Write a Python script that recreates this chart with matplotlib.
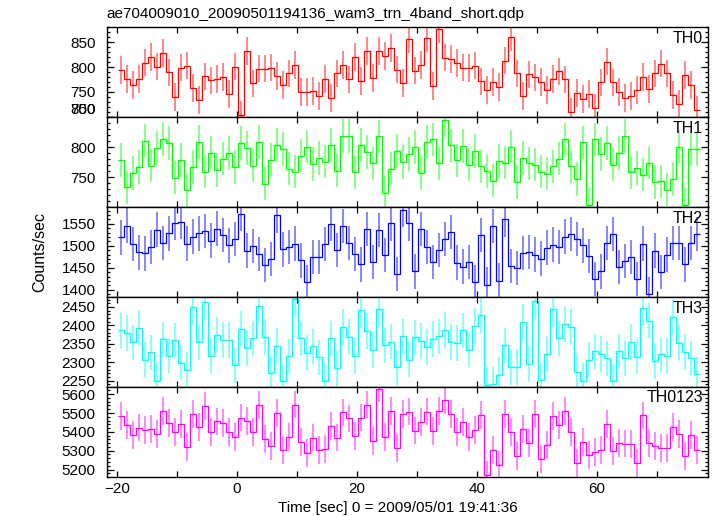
import numpy as np
import matplotlib
matplotlib.use('Agg')
import matplotlib.pyplot as plt
from matplotlib.ticker import MultipleLocator, FixedLocator

plt.rcParams['font.family'] = ['Liberation Sans', 'DejaVu Sans']

# ── data (counts/sec, 1 s bins) ───────────────────────────────────────────────

TITLE = 'ae704009010_20090501194136_wam3_trn_4band_short.qdp'
XLABEL = 'Time [sec] 0 = 2009/05/01 19:41:36'
YLABEL = 'Counts/sec'

BIN_START = -19.75   # sec, left edge of first bin
BIN_WIDTH = 1.0      # sec

th0 = [794, 776, 764, 776, 809, 820, 801, 828, 789, 739,
       799, 803, 757, 733, 781, 773, 776, 780, 745, 801,
       703, 832, 767, 797, 797, 799, 782, 763, 787, 804,
       749, 749, 752, 741, 776, 737, 787, 804, 775,
       821, 772, 832, 778, 832, 822, 839, 795, 768, 857,
       793, 804, 859, 762, 876, 819, 816, 808, 799, 798,
       803, 771, 753, 770, 759, 813, 861, 787, 741, 785,
       779, 770, 753, 776, 791, 775, 710, 748, 735, 745,
       718, 769, 811, 769, 750, 737, 741, 753, 780, 756,
       787, 807, 787, 744, 725, 784, 763, 713]

th1 = [779, 733, 757, 767, 811, 769, 799, 814, 807, 749,
       779, 728, 767, 809, 759, 791, 762, 781, 790, 767,
       807, 799, 769, 809, 739, 779, 804, 797, 764, 759,
       786, 801, 772, 782, 776, 804, 761, 819, 819,
       758, 804, 792, 773, 818, 724, 764, 794, 775, 789,
       800, 757, 809, 813, 773, 846, 803, 778, 802, 771,
       794, 768, 760, 744, 777, 774, 801, 742, 782, 773,
       771, 759, 756, 768, 781, 813, 768, 747, 808, 704,
       813, 789, 807, 771, 790, 819, 758, 765, 754, 774,
       742, 743, 729, 747, 801, 704, 797, 797]

th2 = [1519, 1546, 1504, 1485, 1483, 1497, 1537, 1507, 1528, 1552,
       1554, 1505, 1521, 1528, 1534, 1512, 1539, 1524, 1501, 1515,
       1572, 1489, 1499, 1481, 1456, 1470, 1569, 1492, 1498, 1505,
       1467, 1418, 1474, 1474, 1504, 1549, 1490, 1545, 1507,
       1481, 1458, 1538, 1463, 1536, 1479, 1551, 1436, 1582, 1551,
       1442, 1538, 1498, 1464, 1491, 1516, 1531, 1462, 1453, 1463,
       1417, 1524, 1412, 1545, 1421, 1560, 1454, 1449, 1484, 1486,
       1480, 1471, 1496, 1503, 1498, 1521, 1527, 1515, 1501, 1477,
       1424, 1442, 1507, 1527, 1452, 1466, 1474, 1424, 1505, 1390,
       1489, 1441, 1480, 1507, 1507, 1458, 1507, 1527]

th3 = [2387, 2379, 2354, 2393, 2307, 2327, 2248, 2362, 2318, 2359,
       2299, 2280, 2450, 2354, 2463, 2318, 2375, 2360, 2360, 2291,
       2391, 2338, 2365, 2453, 2368, 2270, 2344, 2248, 2316, 2472,
       2365, 2325, 2343, 2313, 2248, 2365, 2283, 2395, 2368,
       2317, 2441, 2385, 2333, 2444, 2346, 2356, 2286, 2370, 2307,
       2367, 2357, 2341, 2363, 2370, 2387, 2355, 2352, 2386, 2334,
       2398, 2428, 2239, 2240, 2266, 2346, 2286, 2287, 2409, 2295,
       2465, 2251, 2322, 2444, 2365, 2403, 2395, 2273, 2249, 2307,
       2329, 2322, 2310, 2248, 2329, 2310, 2355, 2315, 2447, 2413,
       2303, 2321, 2317, 2423, 2353, 2328, 2310, 2267]

th0123 = [5483, 5435, 5382, 5423, 5412, 5414, 5387, 5513, 5446, 5401,
          5442, 5318, 5497, 5425, 5536, 5400, 5455, 5448, 5400, 5375,
          5476, 5458, 5400, 5543, 5364, 5323, 5499, 5302, 5371, 5545,
          5345, 5288, 5370, 5302, 5309, 5430, 5370, 5503, 5471,
          5380, 5476, 5545, 5350, 5630, 5371, 5511, 5313, 5495, 5508,
          5407, 5453, 5508, 5405, 5511, 5568, 5497, 5400, 5453, 5371,
          5412, 5490, 5171, 5306, 5226, 5497, 5401, 5272, 5417, 5343,
          5497, 5256, 5329, 5483, 5437, 5513, 5400, 5237, 5345, 5279,
          5295, 5306, 5442, 5297, 5343, 5338, 5334, 5237, 5487, 5341,
          5323, 5316, 5316, 5425, 5387, 5274, 5382, 5306]

series    = [th0, th1, th2, th3, th0123]
errors    = [28, 28, 39, 48, 74]          # typical 1-sigma per panel
labels    = ['TH0', 'TH1', 'TH2', 'TH3', 'TH0123']
colors    = ['#ff0000', '#00ff00', '#0000ff', '#00ffff', '#ff00ff']
ylims     = [(699, 880), (700, 850), (1384, 1588), (2233, 2477), (5162, 5639)]
yticks    = [[700, 750, 800, 850], [750, 800, 850],
             [1400, 1450, 1500, 1550],
             [2250, 2300, 2350, 2400, 2450],
             [5200, 5300, 5400, 5500, 5600]]
yminor    = [10, 10, 10, 10, 20]

# ── figure ────────────────────────────────────────────────────────────────────

W, H = 717, 516
fig = plt.figure(figsize=(W / 100, H / 100), dpi=100)

left, right = 106.7 / W, 708.3 / W
top, bottom = 27.3 / H, 476.7 / H
ph = (bottom - top) / len(series)

axes = []
for k, (vals, err, lbl, col) in enumerate(zip(series, errors, labels, colors)):
    y0 = 1 - top - (k + 1) * ph
    ax = fig.add_axes([left, y0, right - left, ph])
    axes.append(ax)

    vals = np.asarray(vals, dtype=float)
    edges = BIN_START + BIN_WIDTH * np.arange(len(vals) + 1)
    centers = 0.5 * (edges[:-1] + edges[1:])

    ax.errorbar(centers, vals, yerr=err, fmt='none', ecolor=col,
                elinewidth=1.2, alpha=0.55, capsize=0)
    ax.stairs(vals, edges, color=col, linewidth=0.9, baseline=None)

    ax.set_xlim(-21.7, 78.6)
    ax.set_ylim(*ylims[k])
    ax.yaxis.set_major_locator(FixedLocator(yticks[k]))
    ax.yaxis.set_minor_locator(MultipleLocator(yminor[k]))
    ax.xaxis.set_major_locator(MultipleLocator(20))
    ax.xaxis.set_minor_locator(MultipleLocator(10))

    ax.tick_params(axis='both', which='both', direction='in',
                   top=True, right=True, labelsize=11, width=0.9)
    ax.tick_params(axis='y', which='major', length=5, pad=8)
    ax.tick_params(axis='y', which='minor', length=2.5)
    ax.tick_params(axis='x', which='both', length=4.3)
    if k < len(series) - 1:
        ax.tick_params(axis='x', labelbottom=False)

    for sp in ax.spines.values():
        sp.set_linewidth(1.0)

    ax.text(0.991, 0.96, lbl, transform=ax.transAxes, ha='right', va='top',
            fontsize=11.5)

# the 700 of TH0 and the 850 of TH1 sit on the shared border
fig.canvas.draw()
axes[0].get_yticklabels()[0].set_va('bottom')
axes[1].get_yticklabels()[-1].set_va('bottom')

fig.text(left, 1 - 18 / H, TITLE, ha='left', va='baseline', fontsize=11)
fig.text(397.9 / W, 1 - 511.7 / H, XLABEL, ha='center', va='baseline',
         fontsize=11)
fig.text(40 / W, 1 - 252 / H, YLABEL, ha='center', va='center',
         rotation=90, fontsize=11.5)

fig.savefig('out.png', dpi=100)
